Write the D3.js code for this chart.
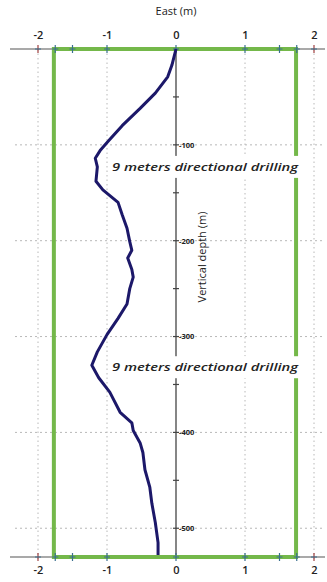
<!DOCTYPE html>
<html><head><meta charset="utf-8">
<script src="https://cdn.jsdelivr.net/npm/d3@7"></script>
<style>
html,body{margin:0;padding:0;background:#fff;}
svg{display:block;}
</style></head>
<body><svg id="c" width="327" height="582"></svg>
<script>
// ---- data ----
const eastTicks = [-2, -1, 0, 1, 2];
const eastMinorTicks = [-1.75, -1.5, 1.5, 1.75];
const depthTicks = [-100, -200, -300, -400, -500];
const depthMinorTicks = [-50, -150, -250, -350, -450];
const casingEast = [-1.77, 1.74];
const depthRange = [0, -530];
const pathEast = [0, -0.06, -0.12, -0.30, -0.52, -0.78, -0.98, -1.10, -1.17, -1.14, -1.16, -1.06, -0.84, -0.78, -0.71, -0.67, -0.64, -0.70, -0.64, -0.62, -0.67, -0.71, -0.84, -1.00, -1.14, -1.22, -1.12, -0.96, -0.81, -0.64, -0.62, -0.52, -0.48, -0.45, -0.38, -0.35, -0.30, -0.26, -0.26];
const pathDepth = [0, -17, -29, -46, -62, -80, -96, -106, -114, -123, -138, -147, -160, -173, -187, -201, -210, -218, -230, -238, -250, -266, -281, -298, -316, -330, -343, -358, -379, -390, -398, -411, -421, -439, -457, -474, -494, -515, -528];
const annotations = ["9 meters directional drilling", "9 meters directional drilling"];
const annotationDepths = [-123, -332];
const annotationEast = 0.42;

// ---- layout ----
const svg = d3.select("#c");
const x = d3.scaleLinear().domain([-2, 2]).range([38, 314]);
const y = d3.scaleLinear().domain(depthRange).range([49, 557]);
const gridColor = "#b8b8b8";
const axisColor = "#444";
const green = "#74b84a";
const navy = "#1c1869";
const yTop = y(0), yBot = y(depthRange[1]);
const fmt = d => (d < 0 ? "-" : "") + Math.abs(d);

// grid: vertical dotted
svg.append("g").selectAll("line").data(eastTicks.filter(d => d !== 0)).join("line")
  .attr("x1", d => x(d)).attr("x2", d => x(d)).attr("y1", yTop).attr("y2", yBot + 3)
  .attr("stroke", gridColor).attr("stroke-width", 1).attr("stroke-dasharray", "1.5,3");
// grid: horizontal dotted
svg.append("g").selectAll("line").data(depthTicks).join("line")
  .attr("x1", 15).attr("x2", 322).attr("y1", d => y(d)).attr("y2", d => y(d))
  .attr("stroke", gridColor).attr("stroke-width", 1).attr("stroke-dasharray", "2,3");

// central vertical axis
svg.append("line").attr("x1", x(0)).attr("x2", x(0)).attr("y1", yTop).attr("y2", yBot)
  .attr("stroke", axisColor).attr("stroke-width", 1.3);
const yAxis = d3.axisRight(y).tickValues(depthTicks).tickSize(0).tickPadding(3).tickFormat(fmt);
const ya = svg.append("g").attr("transform", `translate(${x(0)},0)`).call(yAxis);
ya.select(".domain").remove();
ya.selectAll("text").attr("font-family", "Open Sans, sans-serif").attr("font-size", 7.5)
  .attr("font-weight", 700).attr("fill", "#222");
svg.append("g").selectAll("line").data(depthTicks.concat(depthMinorTicks)).join("line")
  .attr("x1", x(0) - 3).attr("x2", x(0) + 3).attr("y1", d => y(d)).attr("y2", d => y(d))
  .attr("stroke", axisColor).attr("stroke-width", 1.2);

// top & bottom axis lines
[yTop, yBot].forEach(yy => {
  svg.append("line").attr("x1", 10).attr("x2", 325).attr("y1", yy).attr("y2", yy)
    .attr("stroke", "#555").attr("stroke-width", 1.2);
});

// casing (green rectangle)
svg.append("rect").attr("x", x(casingEast[0])).attr("y", yTop)
  .attr("width", x(casingEast[1]) - x(casingEast[0])).attr("height", yBot - yTop)
  .attr("fill", "none").attr("stroke", green).attr("stroke-width", 4);

// ticks on top/bottom axes
const allEastTicks = eastTicks.concat(eastMinorTicks);
[yTop, yBot].forEach(yy => {
  svg.append("g").selectAll("line").data(allEastTicks).join("line")
    .attr("x1", d => x(d)).attr("x2", d => x(d)).attr("y1", yy - 4).attr("y2", yy + 4)
    .attr("stroke", d => Math.abs(d) === 2 ? "#a04040" : "#3a6f8f").attr("stroke-width", 1.2);
  svg.append("g").selectAll("line").data(allEastTicks).join("line")
    .attr("x1", d => x(d) - 3).attr("x2", d => x(d) + 3).attr("y1", yy).attr("y2", yy)
    .attr("stroke", "#3a6f8f").attr("stroke-width", 1);
});

// x axis labels
const xTop = d3.axisTop(x).tickValues(eastTicks).tickSize(0).tickPadding(10).tickFormat(fmt);
const xBot = d3.axisBottom(x).tickValues(eastTicks).tickSize(0).tickPadding(9).tickFormat(fmt);
const gt = svg.append("g").attr("transform", `translate(0,${yTop})`).call(xTop);
const gb = svg.append("g").attr("transform", `translate(0,${yBot})`).call(xBot);
[gt, gb].forEach(g => {
  g.select(".domain").remove();
  g.selectAll("text").attr("font-family", "Open Sans, sans-serif").attr("font-size", 11)
    .attr("font-weight", 600).attr("fill", "#222");
});

// titles
svg.append("text").attr("x", x(0)).attr("y", 15).attr("text-anchor", "middle")
  .attr("font-family", "Open Sans, sans-serif").attr("font-size", 11).attr("fill", "#222")
  .text("East (m)");
svg.append("text").attr("transform", `translate(206,257) rotate(-90)`).attr("text-anchor", "middle")
  .attr("font-family", "Open Sans, sans-serif").attr("font-size", 11).attr("fill", "#222")
  .text("Vertical depth (m)");

// annotations with white backgrounds
annotations.forEach((t, i) => {
  const cy = y(annotationDepths[i]);
  svg.append("rect").attr("x", 110).attr("y", cy - 11).attr("width", 192).attr("height", 22).attr("fill", "#fff");
  svg.append("text").attr("x", x(annotationEast)).attr("y", cy + 4).attr("text-anchor", "middle")
    .attr("font-family", "Open Sans, sans-serif").attr("font-size", 11).attr("font-style", "italic")
    .attr("font-weight", 600).attr("fill", "#222").attr("textLength", 186).attr("lengthAdjust", "spacingAndGlyphs").text(t);
});

// well path
const pts = pathEast.map((e, i) => [e, pathDepth[i]]);
svg.append("path").datum(pts)
  .attr("d", d3.line().x(d => x(d[0])).y(d => y(d[1])))
  .attr("fill", "none").attr("stroke", navy).attr("stroke-width", 3).attr("stroke-linejoin", "round");
</script></body></html>
